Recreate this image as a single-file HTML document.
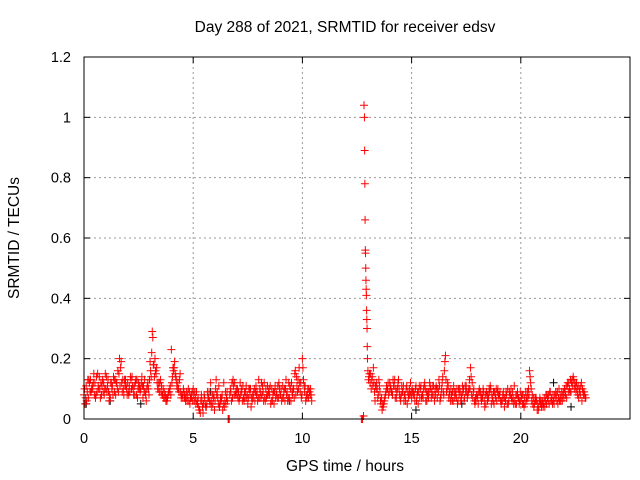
<!DOCTYPE html>
<html><head><meta charset="utf-8"><style>
body{margin:0;background:#fff}
svg{display:block;font-family:"Liberation Sans",sans-serif}
</style></head><body>
<svg id="c" width="640" height="480">
<rect width="640" height="480" fill="#fff"/>
<text x="345" y="32" font-size="15.5" text-anchor="middle">Day 288 of 2021, SRMTID for receiver edsv</text>
<text x="345" y="471" font-size="15.5" text-anchor="middle">GPS time / hours</text>
<text transform="translate(19,238) rotate(-90)" font-size="15.5" text-anchor="middle">SRMTID / TECUs</text>
<g id="grid"></g><g id="marks"></g>
<rect x="84" y="57" width="546" height="362" fill="none" stroke="#000"/>
</svg>
<script>
const xTicks=[0,5,10,15,20];
const yTicks=[0,0.2,0.4,0.6,0.8,1,1.2];
const yTickLabels=["0","0.2","0.4","0.6","0.8","1","1.2"];
const seg1A=[.08,.11,.07,.13,.10,.12,.09,.14,.08,.12,.10,.13,.07,.11,.09,.12,.15,.19,.10,.13,.12,.09,.14,.11,.08,.12,.10,.07,.09,.11,.13,.22,.18,.15,.10,.13,.08,.07,.06,.09,.23,.16,.14,.12,.15,.08,.07,.09,.06,.08,.10,.07,.05,.03,.06,.08,.04,.07,.12,.05,.06,.09,.04,.07,.12,.05,0,.10,.07,.12,.08,.06,.10,.07,.09,.05,.08,.06,.10,.08,.13,.07,.09,.06,.11,.08,.10,.05,.09,.07,.08,.11,.06,.09,.07,.12,.10,.08,.13,.09,.20,.09,.07,.10,.08];
const seg1B=[.05,.09,.12,.10,.15,.08,.11,.07,.13,.10,.09,.06,.12,.14,.08,.16,.11,.09,.13,.10,.08,.13,.10,.12,.07,.11,.14,.09,.06,.10,.16,.27,.20,.12,.09,.11,.07,.06,.08,.11,.14,.19,.11,.09,.07,.10,.06,.08,.05,.09,.06,.09,.04,.06,.02,.05,.09,.06,.04,.08,.13,.05,.07,.03,.06,.09,0,.06,.11,.09,.07,.12,.06,.09,.07,.10,.04,.07,.09,.06,.10,.08,.12,.07,.09,.05,.08,.11,.07,.10,.06,.09,.13,.07,.10,.08,.15,.11,.17,.07,.13,.06,.10,.08];
const seg1C=[.10,.06,.13,.09,.12,.07,.15,.10,.11,.08,.14,.09,.12,.08,.13,.10,.20,.12,.08,.11,.09,.14,.11,.08,.13,.10,.12,.11,.08,.12,.19,.29,.14,.17,.12,.09,.10,.08,.07,.10,.12,.17,.13,.10,.09,.07,.08,.06,.09,.07,.08,.05,.07,.02,.04,.07,.05,.09,.06,.07,.10,.07,.05,.08,.04,.07,0,.09,.13,.08,.10,.07,.09,.06,.11,.07,.10,.08,.06,.09,.07,.12,.06,.10,.08,.11,.06,.09,.08,.12,.10,.07,.10,.06,.11,.09,.07,.14,.10,.12,.17,.11,.08,.09,.06];
const seg1D=[.07,.13,.09,.11,.08,.14,.10,.12,.09,.15,.11,.08,.10,.13,.12,.09,.17,.13,.11,.08,.11,.10,.08,.13,.10,.09,.11,.13,.10,.08,.14,.18,.16,.10,.12,.08,.09,.07,.09,.08,.17,.15,.10,.13,.08,.09,.07,.10,.07,.06,.09,.06,.03,.08,.05,.04,.07,.05,.08,.03,.08,.11,.06,.05,.09,.06,.08,.12,.08,.10,.09,.08,.11,.07,.08,.10,.07,.09,.11,.07,.09,.11,.07,.08,.10,.06,.09,.07,.11,.08,.07,.10,.08,.12,.06,.10,.16,.09,.12,.08,.11,.08,.07,.10];
const seg2A=[.16,.12,.14,.09,.12,.13,.05,.04,.08,.10,.12,.09,.11,.07,.13,.06,.09,.08,.05,.10,.07,.09,.11,.05,.10,.08,.12,.06,.09,.07,.11,.08,.10,.06,.12,.16,.09,.07,.10,.06,.09,.05,.10,.08,.06,.11,.09,.17,.07,.05,.08,.10,.06,.09,.05,.08,.11,.07,.09,.06,.07,.05,.09,.06,.10,.08,.06,.11,.05,.07,.06,.08,.05,.09,.16,.06,.04,.07,.03,.05,.06,.04,.08,.05,.07,.06,.09,.05,.08,.06,.10,.07,.12,.09,.14,.11,.08,.10,.06,.09];
const seg2B=[.14,.10,.17,.11,.07,.09,.03,.06,.11,.08,.10,.13,.07,.10,.08,.11,.06,.10,.07,.12,.09,.06,.08,.11,.07,.10,.06,.09,.11,.08,.06,.10,.13,.08,.09,.21,.12,.08,.06,.09,.07,.10,.06,.09,.11,.07,.13,.08,.10,.06,.05,.09,.07,.04,.08,.10,.05,.09,.07,.10,.09,.06,.04,.08,.06,.10,.07,.05,.09,.06,.08,.04,.07,.10,.12,.05,.07,.03,.06,.04,.05,.08,.06,.09,.05,.08,.06,.10,.07,.09,.08,.12,.09,.13,.10,.12,.07,.11,.09,.07];
const seg2C=[.13,.15,.11,.06,.10,.11,.07,.05,.09,.12,.11,.08,.13,.09,.10,.08,.11,.06,.09,.08,.10,.08,.06,.09,.11,.07,.10,.08,.12,.09,.08,.11,.09,.07,.14,.19,.10,.09,.08,.11,.08,.06,.09,.11,.07,.09,.10,.14,.09,.07,.07,.09,.08,.06,.09,.07,.10,.06,.08,.09,.08,.06,.07,.09,.05,.08,.09,.06,.08,.05,.07,.05,.09,.07,.14,.08,.05,.06,.04,.06,.04,.06,.07,.09,.06,.05,.08,.07,.06,.08,.09,.11,.10,.12,.13,.09,.11,.08,.10,.08];
const seg2D=[.15,.13,.12,.10,.08,.06,.05,.07,.10,.09,.09,.11,.10,.12,.07,.09,.08,.11,.08,.09,.08,.10,.09,.07,.08,.11,.09,.07,.10,.11,.10,.07,.11,.10,.08,.13,.11,.06,.09,.07,.10,.08,.07,.10,.09,.08,.10,.12,.06,.08,.09,.07,.10,.08,.06,.09,.08,.05,.10,.08,.06,.08,.07,.05,.09,.07,.05,.08,.07,.09,.05,.07,.06,.08,.10,.07,.06,.05,.07,.05,.07,.05,.08,.06,.08,.07,.09,.06,.09,.07,.11,.09,.13,.11,.12,.10,.09,.12,.08,.07];
const spikeT=[12.7,12.75,12.8,12.82,12.84,12.85,12.86,12.87,12.88,12.89,12.9,12.91,12.92,12.93,12.94,12.95,12.96,12.97,12.98];
const spikeV=[0,0,0.01,1.04,1.0,0.89,0.78,0.66,0.56,0.55,0.5,0.46,0.43,0.41,0.36,0.33,0.3,0.24,0.2];
const blackT=[0.1,1.2,2.6,5.8,6.2,9.4,15.2,17.3,21.5,22.3];
const blackV=[0.05,0.06,0.05,0.09,0.04,0.06,0.03,0.05,0.12,0.04];
const NS="http://www.w3.org/2000/svg";
const X=t=>84+t*546/25, Y=v=>419-v*362/1.2;
const grid=document.getElementById('grid'), marks=document.getElementById('marks');
function mk(tag,at,parent){const e=document.createElementNS(NS,tag);for(const k in at)e.setAttribute(k,at[k]);parent.appendChild(e);return e;}
xTicks.forEach(t=>{
 const l=mk('line',{x1:X(t),x2:X(t),y1:57,y2:419,stroke:'#999','stroke-dasharray':'2,3'},grid);
 
 
 mk('line',{x1:X(t),x2:X(t),y1:419,y2:413,stroke:'#000'},grid);
 mk('line',{x1:X(t),x2:X(t),y1:57,y2:63,stroke:'#000'},grid);
 const tx=mk('text',{x:X(t),y:443,'font-size':14.5,'text-anchor':'middle'},grid);tx.textContent=t;
 
 
});
yTicks.forEach((v,i)=>{
 const l=mk('line',{x1:84,x2:630,y1:Y(v),y2:Y(v),stroke:'#999','stroke-dasharray':'2,3'},grid);
 
 
 mk('line',{x1:84,x2:90,y1:Y(v),y2:Y(v),stroke:'#000'},grid);
 mk('line',{x1:624,x2:630,y1:Y(v),y2:Y(v),stroke:'#000'},grid);
 const tx=mk('text',{x:71,y:Y(v)+5,'font-size':14.5,'text-anchor':'end'},grid);tx.textContent=yTickLabels[i];
 
 
});
function plus(t,v,col){
 const p=mk('path',{d:`M${X(t)-4},${Y(v)}h8M${X(t)},${Y(v)-4}v8`,stroke:col,'stroke-width':1,fill:'none'},marks);
 
 
}
blackT.forEach((t,i)=>plus(t,blackV[i],'#000'));
seg1A.forEach((v,i)=>plus(i*0.1,v,'#f00'));
seg1B.forEach((v,i)=>plus(0.05+i*0.1,v,'#f00'));
seg1C.forEach((v,i)=>plus(0.025+i*0.1,v,'#f00'));
seg1D.forEach((v,i)=>plus(0.075+i*0.1,v,'#f00'));
seg2A.forEach((v,i)=>plus(13+i*0.1,v,'#f00'));
seg2B.forEach((v,i)=>plus(13.05+i*0.1,v,'#f00'));
seg2C.forEach((v,i)=>plus(13.025+i*0.1,v,'#f00'));
seg2D.forEach((v,i)=>plus(13.075+i*0.1,v,'#f00'));
spikeT.forEach((t,i)=>plus(t,spikeV[i],'#f00'));
</script>
</body></html>
